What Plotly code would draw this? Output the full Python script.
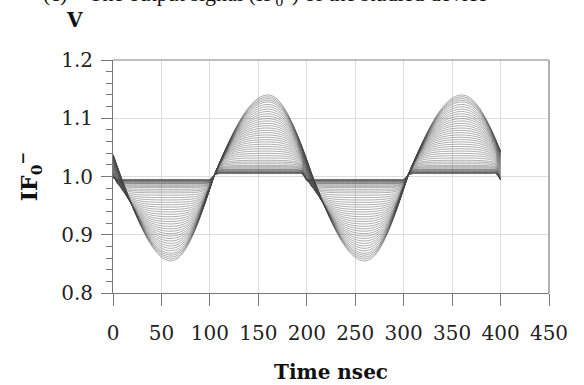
import numpy as np
import plotly.graph_objects as go

# time axis (ns), sampled every 5 ns
time_ns = list(range(0, 405, 5))

# outermost (largest swing) curve
outer_curve = [
    1.0378, 1.0143, 0.9912, 0.9696, 0.9486, 0.9288, 0.9106, 0.8944, 0.8807, 0.8697,
    0.8616, 0.8567, 0.8550, 0.8573, 0.8641, 0.8753, 0.8904, 0.9090, 0.9305, 0.9542,
    0.9794, 1.0039, 1.0235, 1.0425, 1.0607, 1.0778, 1.0933, 1.1070, 1.1185, 1.1278,
    1.1345, 1.1386, 1.1400, 1.1380, 1.1319, 1.1220, 1.1086, 1.0920, 1.0728, 1.0514,
    1.0285, 1.0048, 0.9832, 0.9625, 0.9426, 0.9238, 0.9068, 0.8917, 0.8789, 0.8686,
    0.8611, 0.8565, 0.8550, 0.8573, 0.8641, 0.8753, 0.8904, 0.9090, 0.9305, 0.9542,
    0.9794, 1.0039, 1.0235, 1.0425, 1.0607, 1.0778, 1.0933, 1.1070, 1.1185, 1.1278,
    1.1345, 1.1386, 1.1400, 1.1383, 1.1332, 1.1247, 1.1133, 1.0990, 1.0823, 1.0636,
    1.0433,
]

# peak deviation from 1.0 of each curve of the family (upper lobes)
lobe_levels = [
    0.140, 0.137, 0.134, 0.131, 0.128, 0.124, 0.120, 0.116, 0.112, 0.108,
    0.104, 0.100, 0.096, 0.092, 0.088, 0.084, 0.080, 0.076, 0.072, 0.068,
    0.064, 0.060, 0.056, 0.052, 0.048, 0.044, 0.040, 0.036, 0.032, 0.028,
    0.025, 0.022, 0.019, 0.017, 0.015, 0.013, 0.012, 0.011, 0.010, 0.009,
    0.008, 0.0075, 0.007, 0.0065, 0.006, 0.0055, 0.005,
]

x_ticks = [0, 50, 100, 150, 200, 250, 300, 350, 400, 450]
y_ticks = [0.8, 0.9, 1.0, 1.1, 1.2]

t = np.array(time_ns, dtype=float)
d = np.array(outer_curve) - 1.0
n = len(d)
A = max(lobe_levels)
period_samples = 40
nxt = np.array([i + 1 if i + 1 < n else i + 1 - period_samples for i in range(n)])

fig = go.Figure()
for L in lobe_levels:
    w = (1.0 - L / A) ** 2
    u = (1 - w) * d + w * d[nxt] - 0.02 * w
    if L >= A:
        y = 1.0 + d
    else:
        p = 2.0
        c = A / ((A / L) ** p - 1.0) ** (1.0 / p)
        y = 1.0 + u / (1.0 + np.abs(u / c) ** p) ** (1.0 / p)
    fig.add_trace(go.Scatter(
        x=t, y=y, mode="lines",
        line=dict(color="rgba(70,70,70,0.75)", width=0.6, shape="spline", smoothing=0.6),
        hoverinfo="skip", showlegend=False,
    ))

tick_font = dict(family="DejaVu Serif", size=20, color="#222")
fig.update_layout(
    width=584, height=385,
    margin=dict(l=113, r=35, t=60, b=92),
    paper_bgcolor="white", plot_bgcolor="white",
    showlegend=False,
    xaxis=dict(
        range=[0, 450], tickvals=x_ticks, ticktext=[str(v) for v in x_ticks],
        ticks="outside", ticklen=12, tickcolor="#777", tickwidth=1,
        showline=True, linecolor="#777", linewidth=1,
        showgrid=True, gridcolor="#ddd", gridwidth=1,
        tickfont=tick_font, ticklabelstandoff=10, zeroline=False,
    ),
    yaxis=dict(
        range=[0.8, 1.2], tickvals=y_ticks, ticktext=[f"{v:.1f}" for v in y_ticks],
        ticks="outside", ticklen=11, tickcolor="#777", tickwidth=1,
        showline=True, linecolor="#777", linewidth=1,
        showgrid=True, gridcolor="#ddd", gridwidth=1,
        minor=dict(dtick=0.02, ticks="outside", ticklen=6, tickcolor="#777", showgrid=False),
        tickfont=tick_font, ticklabelstandoff=4, zeroline=False,
    ),
    shapes=[
        dict(type="line", xref="paper", yref="paper", x0=0, x1=1, y0=1, y1=1,
             line=dict(color="#aaa", width=1.5)),
        dict(type="line", xref="paper", yref="paper", x0=1, x1=1, y0=0, y1=1,
             line=dict(color="#999", width=1.5)),
    ],
    annotations=[
        dict(text="<b>Time nsec</b>", xref="paper", yref="paper", x=0.5, y=-0.341,
             xanchor="center", yanchor="middle", showarrow=False,
             font=dict(family="DejaVu Serif", size=20, color="#111")),
        dict(text="<b>IF<sub>0</sub><sup>−</sup></b>", xref="paper", yref="paper",
             x=-0.191, y=0.5, textangle=-90, xanchor="center", yanchor="middle",
             showarrow=False, font=dict(family="DejaVu Serif", size=22, color="#111")),
        dict(text="<b>V</b>", xref="paper", yref="paper", x=-0.088, y=1.172,
             xanchor="center", yanchor="middle", showarrow=False,
             font=dict(family="DejaVu Serif", size=20, color="#111")),
        dict(text="(c)    The output signal (IF<sub>0</sub><sup>−</sup>) of the studied device",
             xref="paper", yref="paper", x=-0.165, y=1.285, xanchor="left", yanchor="middle",
             showarrow=False, font=dict(family="Liberation Serif", size=22, color="#111")),
    ],
)

fig.write_html("out.html")
